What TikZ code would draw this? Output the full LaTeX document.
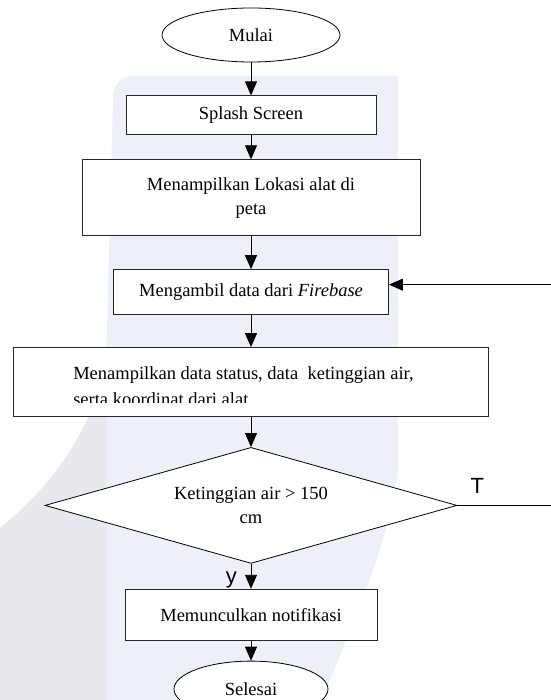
\documentclass[tikz,border=0pt]{standalone}
\usepackage{fontspec}
\setmainfont{Liberation Serif}
\newfontfamily\labelfont{Liberation Sans}
\usepackage{tikz}
\usetikzlibrary{arrows.meta,positioning,shapes.geometric}
\definecolor{wmark}{RGB}{238,240,248}
\definecolor{wmarkgray}{RGB}{232,233,239}
\tikzset{
    %Define standard arrow tip
    >={Triangle[length=14pt,width=12pt]},
    %Define style for boxes
    terminal/.style={
           ellipse,
           draw=black, line width=0.8pt,
           fill=white,
           inner sep=0pt,
           font=\fontsize{18.5}{24}\selectfont,
           text centered,
           },
    process/.style={
           rectangle,
           draw=black!85, line width=0.9pt,
           fill=white,
           inner sep=0pt,
           font=\fontsize{18.5}{24}\selectfont,
           align=center,
           },
    decision/.style={
           diamond,
           aspect=3.55,
           draw=black, line width=0.8pt,
           fill=white,
           inner sep=0pt,
           font=\fontsize{18.5}{24}\selectfont,
           align=center,
           },
    plain/.style={
           inner sep=0pt,
           font=\fontsize{18.5}{24}\selectfont,
           },
    answer/.style={
           inner sep=0pt,
           font=\labelfont\fontsize{22}{26}\selectfont,
           },
    % Define arrow style
    pil/.style={
           ->,
           line width=0.9pt,
           },
}
\begin{document}
\begin{tikzpicture}[x=1pt,y=-1pt]
 \useasboundingbox (0,0) rectangle (550,700);

 %watermark
 \fill[wmark] (113,100) .. controls (113,84) and (120,76) .. (136,76) -- (398,76) -- (398,470)
    .. controls (385,560) and (345,640) .. (322,700) -- (0,700) -- (0,528)
    .. controls (60,480) and (107,410) .. (107,330) -- cycle;
 \begin{scope}
  \clip (0,0) rectangle (107,700);
  \fill[wmarkgray] (113,100) -- (398,76) -- (398,470)
    .. controls (385,560) and (345,640) .. (322,700) -- (0,700) -- (0,528)
    .. controls (60,480) and (107,410) .. (107,330) -- cycle;
 \end{scope}

 %nodes
 \node[terminal, minimum width=178pt, minimum height=54pt] (1) at (251,35) {Mulai};
 \node[process, minimum width=250pt, minimum height=39pt, below=33pt of 1] (2) {Splash Screen};
 \node[process, minimum width=338pt, minimum height=76pt, below=24pt of 2] (3) {Menampilkan Lokasi alat di\\peta};
 \node[process, minimum width=275pt, minimum height=45pt, below=33pt of 3] (4) {Mengambil data dari \textit{Firebase}};
 \node[process, minimum width=475pt, minimum height=69pt, below=32pt of 4] (5) {};
 \node[decision, minimum width=412pt, minimum height=116pt, below=30pt of 5] (6) {Ketinggian air > 150\\cm};
 \node[process, minimum width=252pt, minimum height=51pt, below=25pt of 6] (7) {Memunculkan notifikasi};
 \node[terminal, minimum width=154pt, minimum height=56pt, below=20pt of 7] (8) {Selesai};

 %text of box 5, cut at the bottom
 \begin{scope}
  \clip (5.north west) rectangle ([yshift=-20.5pt]5.east);
  \node[plain, anchor=base west] (5a) at ([xshift=60pt,yshift=2.5pt]5.west) {Menampilkan data status, data\ \ ketinggian air,};
  \node[plain, anchor=base west] (5b) at ([xshift=60pt,yshift=-23.5pt]5.west) {serta koordinat dari alat};
 \end{scope}

 %answers
 \node[answer, above right=12pt and 13pt of 6.east] (t) {T};
 \node[answer, anchor=base east] (y) at ([xshift=-14pt,yshift=-20pt]6.south) {y};

 \path[pil] (1) edge (2)
    (2) edge (3)
    (3) edge (4)
    (4) edge (5)
    (5) edge (6)
    (6) edge (7)
    (7) edge (8);
 \draw[pil] (6.east) -- ++(110,0) |- ([yshift=7.5pt]4.east);

\end{tikzpicture}
\end{document}
